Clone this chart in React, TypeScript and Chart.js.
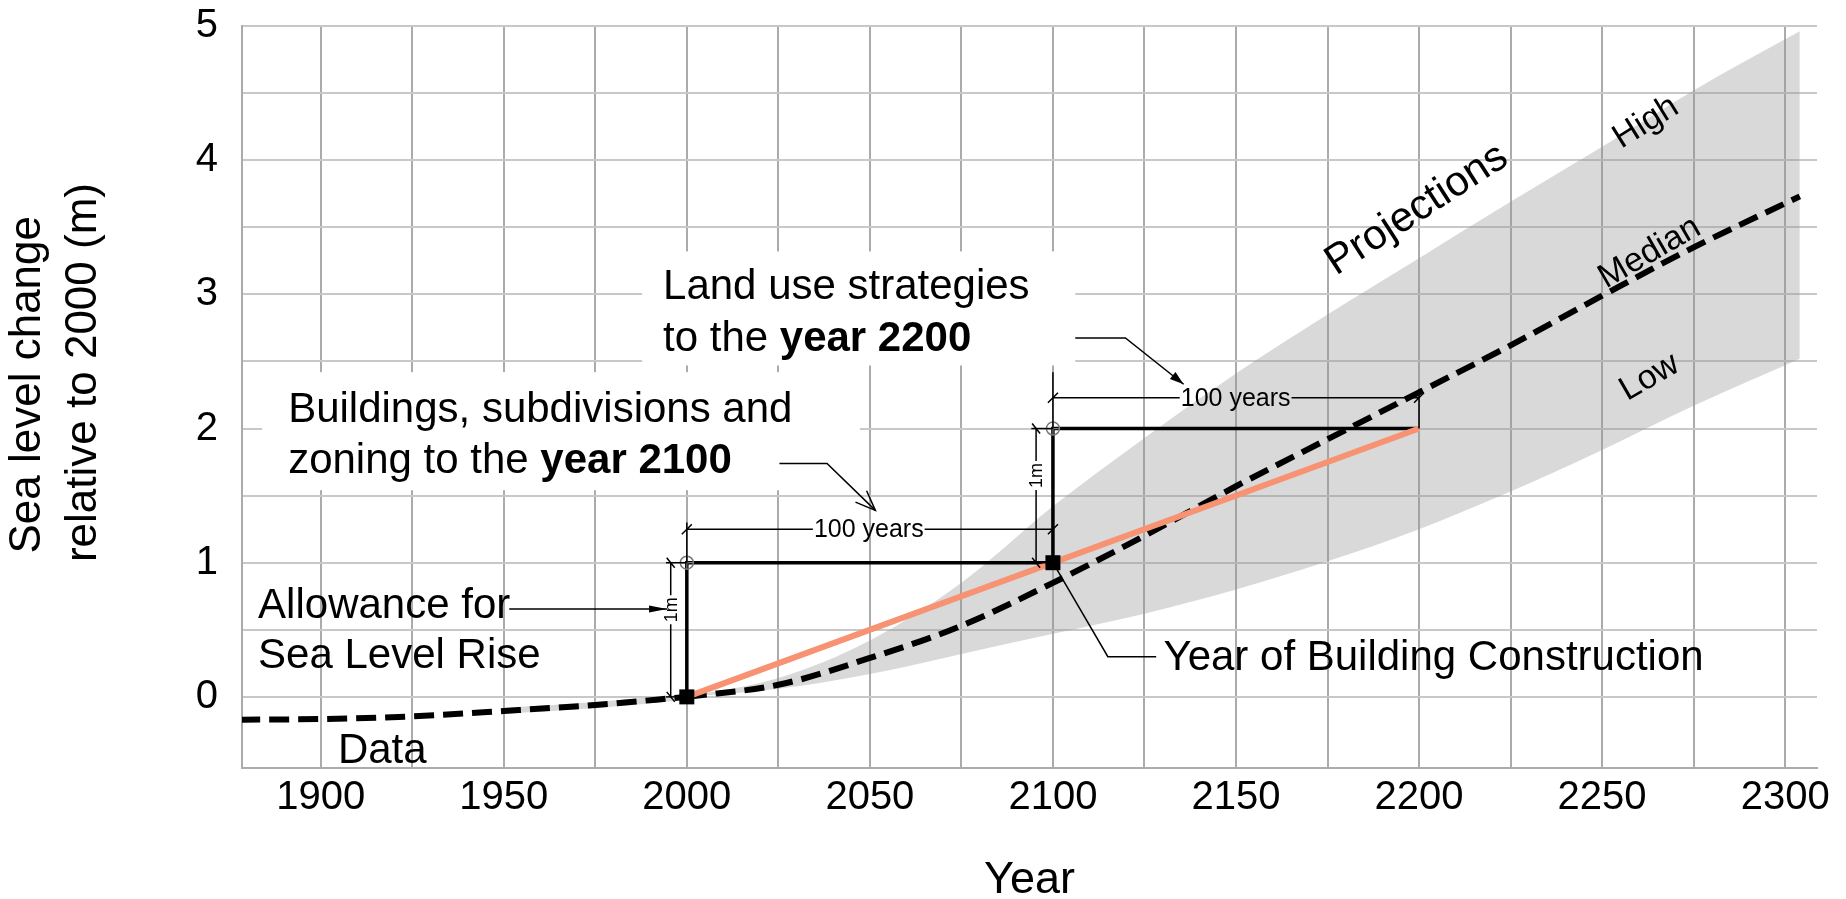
import React, { useEffect, useRef } from 'react';
import { Chart, registerables } from 'chart.js';

Chart.register(...registerables);

const FONT = '"Liberation Sans", Arial, Helvetica, sans-serif';

// ---------- axes ----------
const X_MIN = 1878.5;
const X_MAX = 2308.7;
const Y_MIN = -0.53;
const Y_MAX = 5;
const xGridYears = [1900, 1925, 1950, 1975, 2000, 2025, 2050, 2075, 2100, 2125, 2150, 2175, 2200, 2225, 2250, 2275, 2300];
const xLabelYears = [1900, 1950, 2000, 2050, 2100, 2150, 2200, 2250, 2300];
const yGridLevels = [0, 0.5, 1, 1.5, 2, 2.5, 3, 3.5, 4, 4.5, 5];
const yLabelLevels = [0, 1, 2, 3, 4, 5];

// ---------- observed data ----------
const dataYears = [1878, 1900, 1925, 1950, 1975, 2000];
const dataLevels = [-0.17, -0.165, -0.145, -0.105, -0.06, 0];

// ---------- projections ----------
const projYears = [2000, 2025, 2050, 2075, 2100, 2125, 2150, 2175, 2200, 2225, 2250, 2275, 2304];
const medianLevels = [0, 0.09, 0.29, 0.53, 0.85, 1.2, 1.57, 1.92, 2.27, 2.62, 2.99, 3.35, 3.73];
const lowLevels = [0, 0.06, 0.17, 0.32, 0.47, 0.62, 0.8, 1.01, 1.25, 1.53, 1.84, 2.17, 2.52];
const highLevels = [0, 0.14, 0.42, 0.85, 1.42, 1.93, 2.41, 2.85, 3.27, 3.69, 4.1, 4.52, 4.96];

// ---------- planning allowance ----------
const allowanceYears = [2000, 2200];
const allowanceLineLevels = [0, 2];
const stepYears = [2000, 2000, 2100, 2100, 2200];
const stepLevels = [0, 1, 1, 2, 2];
const constructionYears = [2000, 2100];
const constructionLevels = [0, 1];
const allowanceLevels = [1, 2];

// ---------- annotations (data coordinates) ----------
const labelBoxes = [
  [1987.8, 3.32, 2106.1, 2.47],
  [1884, 2.42, 2047.3, 1.54],
];
const dimensions = [
  { from: [1995.6, 0], to: [1995.6, 1], label: '1m', at: 0.65, vertical: true },
  { from: [2000, 1.25], to: [2100, 1.25], label: '100 years', at: 2049.7, vertical: false },
  { from: [2095.4, 1], to: [2095.4, 2], label: '1m', at: 1.65, vertical: true },
  { from: [2100, 2.23], to: [2200, 2.23], label: '100 years', at: 2149.9, vertical: false },
];
const extensionLines = [
  [[2000, 1], [2000, 1.3]],
  [[2100, 2], [2100, 2.42]],
  [[2200, 2], [2200, 2.26]],
  [[1994.3, 0], [2000, 0]],
  [[1994.3, 1], [2000, 1]],
  [[2094.1, 1], [2100, 1]],
  [[2094.1, 2], [2100, 2]],
];
const arrows = [
  { points: [[1951.5, 0.655], [1994.6, 0.655]], head: 'filled', len: 18, half: 3.5 },
  { points: [[2025.3, 1.74], [2038.3, 1.74], [2051.5, 1.39]], head: 'open', len: 20, half: 8 },
  { points: [[2106.1, 2.675], [2119.8, 2.675], [2135.7, 2.33]], head: 'filled', len: 14, half: 4.5 },
];
const leaderLines = [
  [[2100, 1], [2115, 0.3], [2128.2, 0.3]],
];
const textLabels: { x: number; y: number; runs: [string, boolean][] }[] = [
  { x: 1882.9, y: 0.697, runs: [['Allowance for', false]] },
  { x: 1882.9, y: 0.328, runs: [['Sea Level Rise', false]] },
  { x: 1904.7, y: -0.377, runs: [['Data', false]] },
  { x: 2130.2, y: 0.31, runs: [['Year of Building Construction', false]] },
  { x: 1993.5, y: 3.08, runs: [['Land use strategies', false]] },
  { x: 1993.5, y: 2.69, runs: [['to the ', false], ['year 2200', true]] },
  { x: 1891.1, y: 2.16, runs: [['Buildings, subdivisions and', false]] },
  { x: 1891.1, y: 1.78, runs: [['zoning to the ', false], ['year 2100', true]] },
];
const rotatedLabels = [
  { text: 'Projections', x: 2199.4, y: 3.63, angle: -33, size: 42 },
  { text: 'High', x: 2262, y: 4.28, angle: -32, size: 34 },
  { text: 'Median', x: 2263, y: 3.31, angle: -30, size: 34 },
  { text: 'Low', x: 2263, y: 2.38, angle: -30, size: 34 },
];

const TEXT_SIZE = 42;

const pts = (xs: number[], ys: number[]) => xs.map((x, i) => ({ x, y: ys[i] }));

function arrowHead(ctx: CanvasRenderingContext2D, tx: number, ty: number, fx: number, fy: number, len: number, half: number, filled: boolean) {
  const ang = Math.atan2(ty - fy, tx - fx);
  const bx = tx - len * Math.cos(ang);
  const by = ty - len * Math.sin(ang);
  const nx = -Math.sin(ang) * half;
  const ny = Math.cos(ang) * half;
  ctx.beginPath();
  if (filled) {
    ctx.moveTo(tx, ty);
    ctx.lineTo(bx + nx, by + ny);
    ctx.lineTo(bx - nx, by - ny);
    ctx.closePath();
    ctx.fill();
  } else {
    ctx.moveTo(bx + nx, by + ny);
    ctx.lineTo(tx, ty);
    ctx.lineTo(bx - nx, by - ny);
    ctx.stroke();
  }
}

const annotationPlugin = {
  id: 'annotations',
  beforeDatasetsDraw(chart: any) {
    const { ctx, scales } = chart;
    const px = (v: number) => scales.x.getPixelForValue(v);
    const py = (v: number) => scales.y.getPixelForValue(v);
    ctx.save();
    ctx.fillStyle = '#ffffff';
    for (const [x0, y0, x1, y1] of labelBoxes) {
      const a = px(x0), b = py(y0), c = px(x1), d = py(y1);
      ctx.fillRect(Math.min(a, c), Math.min(b, d), Math.abs(c - a), Math.abs(d - b));
    }
    ctx.restore();
  },
  afterDatasetsDraw(chart: any) {
    const { ctx, scales } = chart;
    const px = (v: number) => scales.x.getPixelForValue(v);
    const py = (v: number) => scales.y.getPixelForValue(v);
    ctx.save();
    ctx.strokeStyle = '#000';
    ctx.fillStyle = '#000';
    ctx.lineWidth = 1.5;
    ctx.lineCap = 'butt';

    for (const line of extensionLines) {
      ctx.beginPath();
      line.forEach(([x, y], i) => (i ? ctx.lineTo(px(x), py(y)) : ctx.moveTo(px(x), py(y))));
      ctx.stroke();
    }

    for (const d of dimensions) {
      const size = d.vertical ? 18 : 25;
      ctx.font = `${size}px ${FONT}`;
      const w = ctx.measureText(d.label).width;
      const x0 = px(d.from[0]), y0 = py(d.from[1]), x1 = px(d.to[0]), y1 = py(d.to[1]);
      ctx.beginPath();
      if (d.vertical) {
        const c = py(d.at);
        ctx.moveTo(x0, y0); ctx.lineTo(x0, c + w / 2 + 2);
        ctx.moveTo(x0, c - w / 2 - 2); ctx.lineTo(x1, y1);
        ctx.moveTo(x0 - 4, y0 - 5); ctx.lineTo(x0 + 4, y0 + 5);
        ctx.moveTo(x1 - 4, y1 - 5); ctx.lineTo(x1 + 4, y1 + 5);
      } else {
        const c = px(d.at);
        ctx.moveTo(x0, y0); ctx.lineTo(c - w / 2 - 1, y0);
        ctx.moveTo(c + w / 2 + 1, y0); ctx.lineTo(x1, y1);
        ctx.moveTo(x0 - 5, y0 + 5); ctx.lineTo(x0 + 5, y0 - 5);
        ctx.moveTo(x1 - 5, y1 + 5); ctx.lineTo(x1 + 5, y1 - 5);
      }
      ctx.stroke();
      ctx.save();
      ctx.textAlign = 'center';
      ctx.textBaseline = 'middle';
      if (d.vertical) {
        ctx.translate(x0, py(d.at));
        ctx.rotate(-Math.PI / 2);
        ctx.fillText(d.label, 0, 1);
      } else {
        ctx.fillText(d.label, px(d.at), y0 + 1);
      }
      ctx.restore();
    }

    for (const a of arrows) {
      const p = a.points.map(([x, y]) => [px(x), py(y)]);
      ctx.beginPath();
      p.forEach(([x, y], i) => (i ? ctx.lineTo(x, y) : ctx.moveTo(x, y)));
      ctx.stroke();
      const [tx, ty] = p[p.length - 1];
      const [fx, fy] = p[p.length - 2];
      arrowHead(ctx, tx, ty, fx, fy, a.len, a.half, a.head === 'filled');
    }

    for (const line of leaderLines) {
      ctx.beginPath();
      line.forEach(([x, y], i) => (i ? ctx.lineTo(px(x), py(y)) : ctx.moveTo(px(x), py(y))));
      ctx.stroke();
    }

    ctx.textAlign = 'left';
    ctx.textBaseline = 'alphabetic';
    for (const t of textLabels) {
      let cx = px(t.x);
      const base = py(t.y) + TEXT_SIZE * 0.358;
      for (const [s, bold] of t.runs) {
        ctx.font = `${bold ? 'bold ' : ''}${TEXT_SIZE}px ${FONT}`;
        ctx.fillText(s, cx, base);
        cx += ctx.measureText(s).width;
      }
    }

    for (const r of rotatedLabels) {
      ctx.save();
      ctx.translate(px(r.x), py(r.y));
      ctx.rotate((r.angle * Math.PI) / 180);
      ctx.font = `${r.size}px ${FONT}`;
      ctx.textAlign = 'center';
      ctx.textBaseline = 'middle';
      ctx.fillText(r.text, 0, 0);
      ctx.restore();
    }
    ctx.restore();
  },
};

export default function App() {
  const ref = useRef<HTMLCanvasElement>(null);
  useEffect(() => {
    if (!ref.current) return;
    const chart = new Chart(ref.current, {
      type: 'line',
      data: {
        datasets: [
          {
            label: 'Construction year',
            data: pts(constructionYears, constructionLevels),
            showLine: false,
            pointStyle: 'rect',
            pointRadius: 10.6,
            pointBackgroundColor: '#000',
            pointBorderColor: '#000',
            pointBorderWidth: 0,
            order: 0,
          },
          {
            label: 'Allowance circle',
            data: pts(constructionYears, allowanceLevels),
            showLine: false,
            pointStyle: 'circle',
            pointRadius: 6.5,
            pointBackgroundColor: 'rgba(0,0,0,0)',
            pointBorderColor: '#777',
            pointBorderWidth: 1.5,
            order: 1,
          },
          {
            label: 'Allowance cross',
            data: pts(constructionYears, allowanceLevels),
            showLine: false,
            pointStyle: 'cross',
            pointRadius: 6.5,
            pointBorderColor: '#777',
            pointBorderWidth: 1.2,
            order: 1,
          },
          {
            label: 'Planning allowance',
            data: pts(allowanceYears, allowanceLineLevels),
            borderColor: '#F79272',
            borderWidth: 6,
            pointRadius: 0,
            fill: false,
            order: 2,
          },
          {
            label: 'Median',
            data: pts(projYears, medianLevels),
            borderColor: '#000',
            borderWidth: 6,
            borderDash: [20, 9],
            pointRadius: 0,
            cubicInterpolationMode: 'monotone',
            fill: false,
            order: 4,
          },
          {
            label: 'Data',
            data: pts(dataYears, dataLevels),
            borderColor: '#000',
            borderWidth: 6,
            borderDash: [20, 9],
            pointRadius: 0,
            cubicInterpolationMode: 'monotone',
            fill: false,
            order: 4,
          },
          {
            label: 'Data shade',
            data: pts(dataYears.slice(3), dataLevels.slice(3)),
            borderColor: '#d9d9d9',
            borderWidth: 6,
            pointRadius: 0,
            cubicInterpolationMode: 'monotone',
            fill: false,
            order: 5,
          },
          {
            label: 'Steps',
            data: pts(stepYears, stepLevels),
            borderColor: '#000',
            borderWidth: 3.5,
            pointRadius: 0,
            fill: false,
            order: 6,
          },
          {
            label: 'Low',
            data: pts(projYears, lowLevels),
            borderWidth: 0,
            borderColor: 'rgba(0,0,0,0)',
            pointRadius: 0,
            cubicInterpolationMode: 'monotone',
            fill: false,
            order: 9,
          },
          {
            label: 'High',
            data: pts(projYears, highLevels),
            borderWidth: 0,
            borderColor: 'rgba(0,0,0,0)',
            backgroundColor: 'rgba(150,150,150,0.36)',
            pointRadius: 0,
            cubicInterpolationMode: 'monotone',
            fill: '-1',
            order: 8,
          },
        ],
      },
      options: {
        animation: false,
        responsive: false,
        devicePixelRatio: 1,
        events: [],
        layout: { padding: { left: 0, top: 26, right: 29, bottom: 0 } },
        plugins: {
          legend: { display: false },
          tooltip: { enabled: false },
        },
        scales: {
          x: {
            type: 'linear',
            min: X_MIN,
            max: X_MAX,
            afterBuildTicks: (s: any) => {
              s.ticks = xGridYears.map((v) => ({ value: v }));
            },
            afterFit: (s: any) => {
              s.height = 131;
            },
            ticks: {
              autoSkip: false,
              maxRotation: 0,
              padding: 6,
              color: '#000',
              font: { family: FONT, size: 40 },
              callback: (v: any) => (xLabelYears.includes(Number(v)) ? String(v) : ''),
            },
            grid: { color: '#ababab', lineWidth: 2, drawTicks: false },
            border: { color: '#ababab', width: 2 },
            title: {
              display: true,
              text: 'Year',
              color: '#000',
              font: { family: FONT, size: 45, lineHeight: 0.8 },
              padding: { top: 0, bottom: 0 },
            },
          },
          y: {
            type: 'linear',
            min: Y_MIN,
            max: Y_MAX,
            afterBuildTicks: (s: any) => {
              s.ticks = yGridLevels.map((v) => ({ value: v }));
            },
            afterFit: (s: any) => {
              s.width = 242;
            },
            ticks: {
              padding: 0,
              color: '#000',
              font: { family: FONT, size: 40 },
              callback: (v: any) => (yLabelLevels.includes(Number(v)) ? String(v) : ''),
            },
            grid: { color: '#c8c8c8', lineWidth: 2, drawTicks: true, tickLength: 24, tickColor: 'rgba(0,0,0,0)' },
            border: { color: '#ababab', width: 2 },
            title: {
              display: true,
              text: ['  Sea level change', '    relative to 2000 (m)'],
              color: '#000',
              font: { family: FONT, size: 44, lineHeight: 1.27 },
              padding: { top: 0, bottom: 0 },
            },
          },
        },
      },
      plugins: [annotationPlugin],
    } as any);
    return () => chart.destroy();
  }, []);

  return (
    <div style={{ position: 'fixed', left: 0, top: 0, width: 1846, height: 899, background: '#fff' }}>
      <canvas ref={ref} width={1846} height={899} style={{ display: 'block', width: 1846, height: 899 }} />
    </div>
  );
}
